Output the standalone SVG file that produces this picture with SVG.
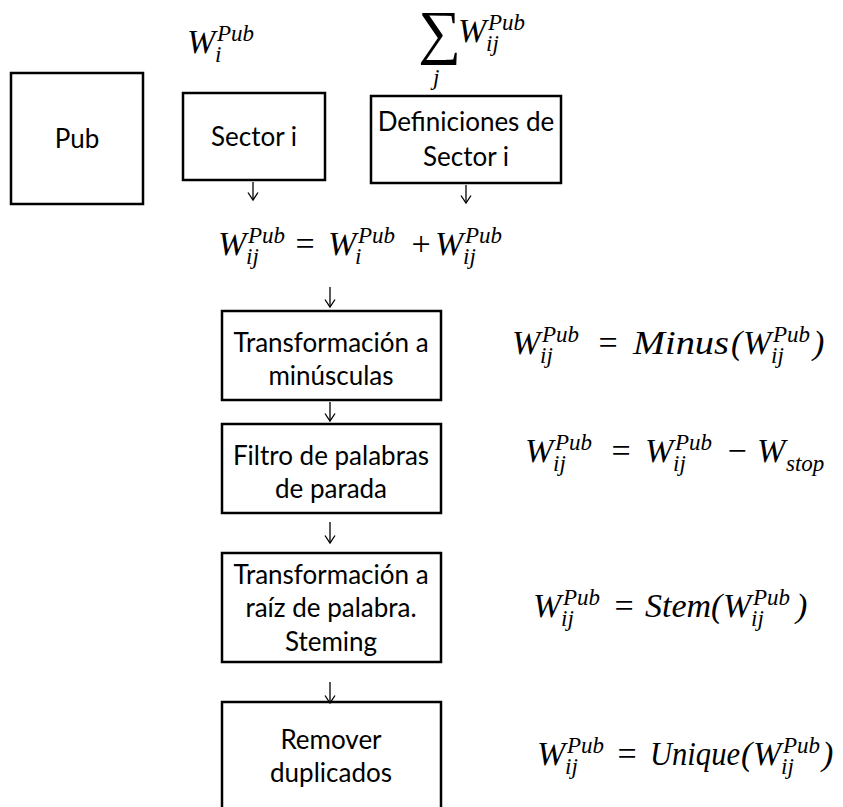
<svg xmlns="http://www.w3.org/2000/svg" width="843" height="807" viewBox="0 0 843 807">
<defs>
<marker id="ah" markerWidth="10" markerHeight="12" refX="8.5" refY="6" orient="auto" markerUnits="userSpaceOnUse" viewBox="0 0 10 12">
<polyline points="1,1 8.5,6 1,11" fill="none" stroke="#000" stroke-width="1.3"/>
</marker>
<style>
.box{fill:#fff;stroke:#000;stroke-width:2.5}
.lbl{font-family:Lato,"Liberation Sans",sans-serif;font-size:26px;fill:#000;text-anchor:middle}
.m{font-family:"Liberation Serif",serif;font-style:italic;font-size:34px;fill:#000}
.s{font-family:"Liberation Serif",serif;font-style:italic;font-size:23px;fill:#000}
.op{font-family:"Liberation Serif",serif;font-size:34px;fill:#000;text-anchor:middle}
.con{stroke:#000;stroke-width:1.3;fill:none}
</style>
</defs>
<rect width="843" height="807" fill="#fff"/>

<g id="pub"><rect class="box" x="11" y="73" width="132" height="131"/><text class="lbl" x="77" y="148">Pub</text></g>
<g id="sector"><rect class="box" x="183" y="93" width="142" height="87"/><text class="lbl" x="254" y="146">Sector i</text></g>
<g id="definiciones"><rect class="box" x="371" y="96" width="190" height="87"/><text class="lbl" x="466" y="131">Definiciones de</text><text class="lbl" x="466" y="166">Sector i</text></g>
<g id="minusculas"><rect class="box" x="222" y="311" width="219" height="89"/><text class="lbl" x="331" y="352">Transformación a</text><text class="lbl" x="331" y="385">minúsculas</text></g>
<g id="filtro"><rect class="box" x="222" y="424" width="219" height="89"/><text class="lbl" x="331" y="465">Filtro de palabras</text><text class="lbl" x="331" y="498">de parada</text></g>
<g id="stemming"><rect class="box" x="222" y="553" width="219" height="109"/><text class="lbl" x="331" y="584">Transformación a</text><text class="lbl" x="331" y="617">raíz de palabra.</text><text class="lbl" x="331" y="651">Steming</text></g>
<g id="remover"><rect class="box" x="222" y="702" width="219" height="120"/><text class="lbl" x="331" y="749">Remover</text><text class="lbl" x="331" y="782">duplicados</text></g>

<g id="connectors">
<line class="con" x1="253" y1="182" x2="253" y2="200" marker-end="url(#ah)"/>
<line class="con" x1="466" y1="185" x2="466" y2="203" marker-end="url(#ah)"/>
<line class="con" x1="330" y1="287" x2="330" y2="307" marker-end="url(#ah)"/>
<line class="con" x1="330" y1="402" x2="330" y2="421" marker-end="url(#ah)"/>
<line class="con" x1="330" y1="522" x2="330" y2="543" marker-end="url(#ah)"/>
<line class="con" x1="330" y1="682" x2="330" y2="703" marker-end="url(#ah)"/>
</g>

<g id="eq-wi">
<text class="m" x="187" y="53">W</text><text class="s" x="217" y="41">Pub</text><text class="s" x="215" y="62">i</text>
</g>
<g id="eq-sum">
<text x="418" y="52" style="font-family:'Liberation Serif',serif;font-size:60px">∑</text>
<text class="s" x="433" y="85">j</text>
<text class="m" x="458" y="42">W</text><text class="s" x="488" y="30">Pub</text><text class="s" x="486" y="51">ij</text>
</g>
<g id="eq-main">
<text class="m" x="218" y="255">W</text><text class="s" x="248" y="243">Pub</text><text class="s" x="246" y="264">ij</text>
<text class="op" x="305" y="255">=</text>
<text class="m" x="328" y="255">W</text><text class="s" x="358" y="243">Pub</text><text class="s" x="355" y="264">i</text>
<text class="op" x="421" y="255">+</text>
<text class="m" x="435" y="255">W</text><text class="s" x="465" y="243">Pub</text><text class="s" x="463" y="264">ij</text>
</g>
<g id="eq-minus">
<text class="m" x="512" y="354">W</text><text class="s" x="542" y="342">Pub</text><text class="s" x="540" y="363">ij</text>
<text class="op" x="608" y="354">=</text>
<text class="m" x="633" y="354" textLength="96" lengthAdjust="spacingAndGlyphs">Minus</text><text class="m" x="731" y="354">(</text>
<text class="m" x="743" y="354">W</text><text class="s" x="773" y="342">Pub</text><text class="s" x="771" y="363">ij</text>
<text class="m" x="813" y="354">)</text>
</g>
<g id="eq-stop">
<text class="m" x="525" y="462">W</text><text class="s" x="555" y="450">Pub</text><text class="s" x="553" y="471">ij</text>
<text class="op" x="621" y="462">=</text>
<text class="m" x="645" y="462">W</text><text class="s" x="675" y="450">Pub</text><text class="s" x="673" y="471">ij</text>
<text class="op" x="737" y="462">−</text>
<text class="m" x="757" y="462">W</text><text class="s" x="786" y="471">stop</text>
</g>
<g id="eq-stem">
<text class="m" x="533" y="617">W</text><text class="s" x="563" y="605">Pub</text><text class="s" x="561" y="626">ij</text>
<text class="op" x="624" y="617">=</text>
<text class="m" x="645" y="617">Stem</text><text class="m" x="711" y="617">(</text>
<text class="m" x="723" y="617">W</text><text class="s" x="753" y="605">Pub</text><text class="s" x="751" y="626">ij</text>
<text class="m" x="796" y="617">)</text>
</g>
<g id="eq-unique">
<text class="m" x="537" y="765">W</text><text class="s" x="567" y="753">Pub</text><text class="s" x="565" y="774">ij</text>
<text class="op" x="627" y="765">=</text>
<text class="m" x="650" y="765" textLength="90" lengthAdjust="spacingAndGlyphs">Unique</text><text class="m" x="741" y="765">(</text>
<text class="m" x="753" y="765">W</text><text class="s" x="783" y="753">Pub</text><text class="s" x="781" y="774">ij</text>
<text class="m" x="822" y="765">)</text>
</g>
</svg>
